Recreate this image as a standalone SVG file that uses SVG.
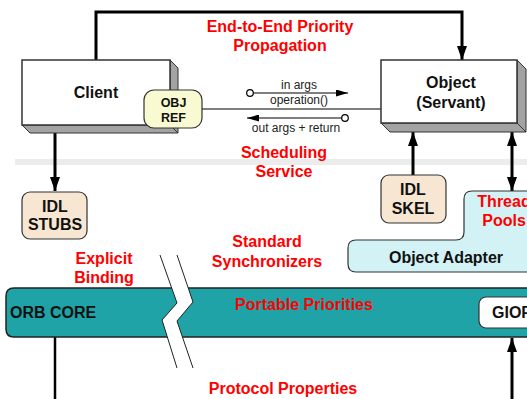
<svg xmlns="http://www.w3.org/2000/svg" width="527" height="399" viewBox="0 0 527 399">
<defs>
<style>
.t{font-family:"Liberation Sans",Arial,sans-serif;font-weight:bold;font-size:16px;fill:#111;text-anchor:middle}
.r{fill:#ff0000}
.s{font-family:"Liberation Sans",Arial,sans-serif;font-size:12px;fill:#222;text-anchor:middle}
.face{fill:#fff;stroke:#333;stroke-width:1.5}
.side{fill:#a3a3a3;stroke:#333;stroke-width:1}
.thick{fill:none;stroke:#000;stroke-width:3}
.thin{fill:none;stroke:#000;stroke-width:1.2}
</style>
<marker id="ah" viewBox="0 0 14 10" refX="14" refY="5" markerWidth="14" markerHeight="10" markerUnits="userSpaceOnUse" orient="auto-start-reverse"><path d="M0,0 L14,5 L0,10 z" fill="#000"/></marker>
<marker id="sa" viewBox="0 0 12 7" refX="12" refY="3.5" markerWidth="12" markerHeight="7" markerUnits="userSpaceOnUse" orient="auto"><path d="M0,0 L12,3.5 L0,7 z" fill="#000"/></marker>
</defs>
<rect width="527" height="399" fill="#fff"/>
<rect x="15" y="159" width="512" height="6" fill="#ececec"/>

<g id="connectors">
<path class="thick" d="M96 60 V12 H462 V60" marker-end="url(#ah)"/>
<path class="thick" d="M55 133 V191" marker-end="url(#ah)"/>
<path class="thick" d="M413 175 V132" marker-end="url(#ah)"/>
<path class="thick" d="M512 132 V191" marker-start="url(#ah)" marker-end="url(#ah)"/>
<path d="M55 337 V399" fill="none" stroke="#000" stroke-width="2.5"/>
<path class="thick" d="M512 399 V338" marker-end="url(#ah)"/>
<path class="thin" d="M202 109 H381"/>
<path class="thin" d="M253 93 H348" marker-end="url(#sa)"/>
<circle cx="250" cy="93" r="3.3" fill="#fff" stroke="#000" stroke-width="1.2"/>
<path class="thin" d="M342 118 H247" marker-end="url(#sa)"/>
<circle cx="345" cy="118" r="3.3" fill="#fff" stroke="#000" stroke-width="1.2"/>
<text class="s" x="299" y="89">in args</text>
<text class="s" x="299" y="104">operation()</text>
<text class="s" x="296" y="132">out args + return</text>
</g>

<g id="client">
<polygon class="side" points="170,60 178,68 178,133 170,125"/>
<polygon class="side" points="22,125 170,125 178,133 30,133"/>
<rect class="face" x="22" y="60" width="148" height="65"/>
<text class="t" x="96" y="98">Client</text>
</g>

<g id="obj-ref">
<rect x="144" y="90" width="58" height="38" rx="10" fill="#fafad2" stroke="#333" stroke-width="1.2"/>
<text class="t" style="font-size:12.5px" x="173.5" y="107">OBJ</text>
<text class="t" style="font-size:12.5px" x="173.5" y="122">REF</text>
</g>

<g id="object">
<polygon class="side" points="517,60 526,69 526,132 517,123"/>
<polygon class="side" points="381,123 517,123 526,132 390,132"/>
<rect class="face" x="381" y="60" width="136" height="63"/>
<text class="t" x="451" y="88">Object</text>
<text class="t" x="451" y="108">(Servant)</text>
</g>

<g id="labels">
<text class="t r" x="280" y="32">End-to-End Priority</text>
<text class="t r" x="280" y="51">Propagation</text>
<text class="t r" x="284" y="158">Scheduling</text>
<text class="t r" x="284" y="177">Service</text>
<text class="t r" x="104" y="264">Explicit</text>
<text class="t r" x="104" y="283">Binding</text>
<text class="t r" x="267" y="247">Standard</text>
<text class="t r" x="267" y="267">Synchronizers</text>
<text class="t r" x="283" y="394">Protocol Properties</text>
</g>

<g id="idl-stubs">
<rect x="22" y="192" width="65" height="47" rx="8" fill="#f7e7d2" stroke="#333" stroke-width="1.2"/>
<text class="t" x="55" y="212">IDL</text>
<text class="t" x="55" y="230">STUBS</text>
</g>

<g id="idl-skel">
<rect x="381" y="175" width="65" height="48" rx="8" fill="#f7e7d2" stroke="#333" stroke-width="1.2"/>
<text class="t" x="413" y="195">IDL</text>
<text class="t" x="413" y="214">SKEL</text>
</g>

<g id="object-adapter">
<path d="M356 240 H456 Q464 240 464 232 V199 Q464 191 472 191 H535 V272 H356 Q348 272 348 264 V248 Q348 240 356 240 Z" fill="#d3f2f5" stroke="#333" stroke-width="1.2"/>
<text class="t" x="446" y="263">Object Adapter</text>
<text class="t r" x="504" y="207">Thread</text>
<text class="t r" x="504" y="226">Pools</text>
</g>

<g id="orb-core">
<path d="M14 288 H540 V337 H14 Q6 337 6 329 V296 Q6 288 14 288 Z" fill="#20a3a7" stroke="#222" stroke-width="1.5"/>
<polygon points="160,255 177,303 162,320 177,368 193,368 177,321 193,302 177,255" fill="#fff"/>
<polyline points="160,255 177,303 162,320 177,368" fill="none" stroke="#222" stroke-width="1"/>
<polyline points="177,255 193,302 177,321 193,368" fill="none" stroke="#222" stroke-width="1"/>
<text class="t" style="text-anchor:start" x="10" y="318">ORB CORE</text>
<text class="t r" x="304" y="310">Portable Priorities</text>
</g>

<g id="giop">
<rect x="479" y="297" width="70" height="31" rx="7" fill="#fff" stroke="#333" stroke-width="1.2"/>
<text class="t" style="text-anchor:start" x="492" y="318">GIOP</text>
</g>
</svg>
